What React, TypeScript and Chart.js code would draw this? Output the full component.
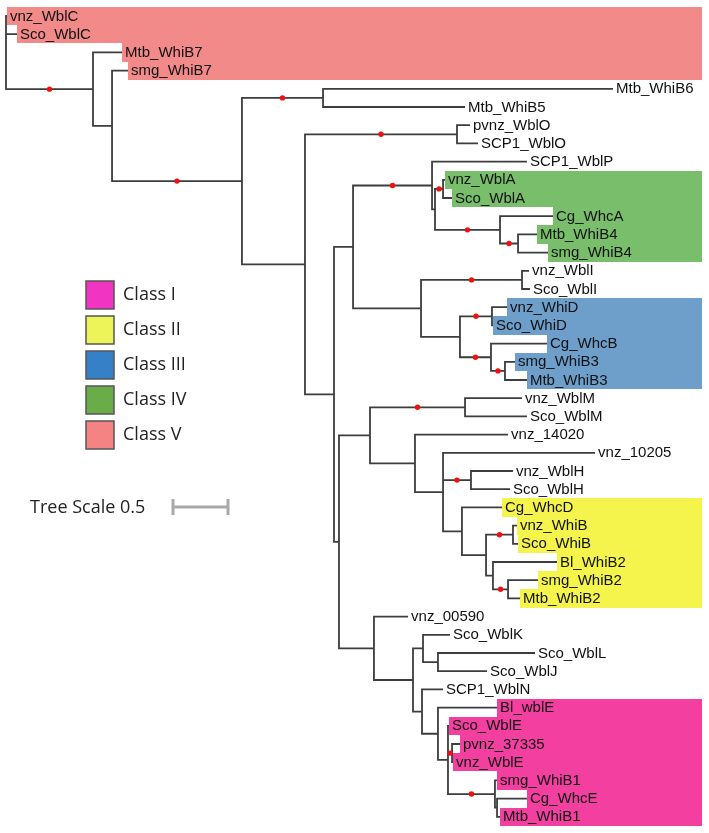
import React, { useEffect, useRef } from "react";
import { Chart, registerables } from "chart.js";
Chart.register(...registerables);

// ---------- DATA ----------
// Leaves in display order (top to bottom); depth = distance from root (tree units)
const leafNames = [
  "vnz_WblC", "Sco_WblC", "Mtb_WhiB7", "smg_WhiB7", "Mtb_WhiB6", "Mtb_WhiB5",
  "pvnz_WblO", "SCP1_WblO", "SCP1_WblP", "vnz_WblA", "Sco_WblA", "Cg_WhcA",
  "Mtb_WhiB4", "smg_WhiB4", "vnz_WblI", "Sco_WblI", "vnz_WhiD", "Sco_WhiD",
  "Cg_WhcB", "smg_WhiB3", "Mtb_WhiB3", "vnz_WblM", "Sco_WblM", "vnz_14020",
  "vnz_10205", "vnz_WblH", "Sco_WblH", "Cg_WhcD", "vnz_WhiB", "Sco_WhiB",
  "Bl_WhiB2", "smg_WhiB2", "Mtb_WhiB2", "vnz_00590", "Sco_WblK", "Sco_WblL",
  "Sco_WblJ", "SCP1_WblN", "Bl_wblE", "Sco_WblE", "pvnz_37335", "vnz_WblE",
  "smg_WhiB1", "Cg_WhcE", "Mtb_WhiB1",
];
const leafDepth = [
  0.009, 0.100, 1.055, 1.109, 5.518, 4.173,
  4.218, 4.291, 4.736, 3.991, 4.055, 4.973,
  4.827, 4.927, 4.755, 4.764, 4.555, 4.427,
  4.918, 4.627, 4.736, 4.691, 4.736, 4.564,
  5.355, 4.609, 4.582, 4.509, 4.645, 4.655,
  5.009, 4.836, 4.673, 3.655, 4.036, 4.809,
  4.373, 3.973, 4.464, 4.027, 4.127, 4.064,
  4.464, 4.736, 4.491,
];
const leafParent = [
  "root", "root", "A", "B", "P56", "P56",
  "E", "E", "I", "WblA", "WblA", "K",
  "L", "L", "WblI", "WblI", "WhiD", "WhiD",
  "X", "WhiB3", "WhiB3", "WblM", "WblM", "O",
  "P2", "WblH", "WblH", "Q", "WhiB", "WhiB",
  "B2g", "SM2", "SM2", "N", "K1", "LJ",
  "LJ", "T", "U", "V", "PV", "PV",
  "W1", "CM", "CM",
];
// Internal nodes
const nodeNames = [
  "root", "A", "B", "C", "P56", "D", "E", "F", "G", "I", "I2", "WblA", "K", "L",
  "J", "WblI", "W", "WhiD", "X", "WhiB3", "H", "M", "WblM", "O", "P2", "WblH",
  "Q", "R", "WhiB", "B2g", "SM2", "N", "S", "K1", "LJ", "T", "U", "V", "PV", "W1", "CM",
];
const nodeDepth = [
  0, 0.791, 0.964, 2.145, 2.882, 2.718, 4.100, 2.982, 3.155, 3.873, 3.900, 3.973, 4.491, 4.655,
  3.773, 4.691, 4.127, 4.418, 4.409, 4.536, 3.027, 3.309, 4.173, 3.718, 3.973, 4.227,
  4.145, 4.364, 4.609, 4.427, 4.564, 3.345, 3.700, 3.791, 3.927, 3.782, 3.927, 4.018, 4.055, 4.445, 4.464,
];
const nodeParent = [
  "", "root", "A", "B", "C", "C", "D", "D", "F", "G", "I", "I2", "I2", "K",
  "G", "J", "J", "W", "W", "X", "F", "H", "M", "M", "O", "P2",
  "P2", "Q", "R", "R", "B2g", "H", "N", "S", "K1", "S", "T", "U", "V", "V", "W1",
];
// Nodes whose incoming branch carries a support marker
const supportedBranches = [
  "A", "C", "P56", "E", "I", "WblA", "K", "L", "WblI", "WhiD", "X", "WhiB3",
  "WblM", "WblH", "WhiB", "SM2", "PV", "W1",
];

// Classes
const classLabels = ["Class I", "Class II", "Class III", "Class IV", "Class V"];
const classHighlight = ["#F33F9F", "#F4F44C", "#6E9FCB", "#79BE6A", "#F28A8A"];
const classLegendColor = ["#F234C2", "#EDF45A", "#3580C6", "#6AAC47", "#F58383"];
const classIMembers = ["Bl_wblE", "Sco_WblE", "pvnz_37335", "vnz_WblE", "smg_WhiB1", "Cg_WhcE", "Mtb_WhiB1"];
const classIIMembers = ["Cg_WhcD", "vnz_WhiB", "Sco_WhiB", "Bl_WhiB2", "smg_WhiB2", "Mtb_WhiB2"];
const classIIIMembers = ["vnz_WhiD", "Sco_WhiD", "Cg_WhcB", "smg_WhiB3", "Mtb_WhiB3"];
const classIVMembers = ["vnz_WblA", "Sco_WblA", "Cg_WhcA", "Mtb_WhiB4", "smg_WhiB4"];
const classVMembers = ["vnz_WblC", "Sco_WblC", "Mtb_WhiB7", "smg_WhiB7"];
const classMembers = [classIMembers, classIIMembers, classIIIMembers, classIVMembers, classVMembers];

const scaleBarLength = 0.5;
const scaleBarLabel = "Tree Scale 0.5";

// ---------- TREE LAYOUT ----------
function buildTree() {
  const xOf: Record<string, number> = {};
  const yOf: Record<string, number> = {};
  const parentOf: Record<string, string> = {};
  leafNames.forEach((n, i) => {
    xOf[n] = leafDepth[i];
    yOf[n] = i;
    parentOf[n] = leafParent[i];
  });
  nodeNames.forEach((n, i) => {
    xOf[n] = nodeDepth[i];
    if (nodeParent[i]) parentOf[n] = nodeParent[i];
  });
  const children: Record<string, string[]> = {};
  Object.keys(parentOf).forEach((c) => {
    const p = parentOf[c];
    (children[p] = children[p] || []).push(c);
  });
  const computeY = (n: string): number => {
    if (n in yOf) return yOf[n];
    const ys = children[n].map(computeY);
    yOf[n] = (Math.min(...ys) + Math.max(...ys)) / 2;
    return yOf[n];
  };
  computeY("root");
  const branchPts: { x: number; y: number }[] = [];
  Object.keys(parentOf).forEach((c) => {
    const p = parentOf[c];
    branchPts.push(
      { x: xOf[p], y: yOf[p] },
      { x: xOf[p], y: yOf[c] },
      { x: xOf[c], y: yOf[c] },
      { x: NaN, y: NaN }
    );
  });
  const dotPts = supportedBranches.map((n) => ({
    x: (xOf[parentOf[n]] + xOf[n]) / 2,
    y: yOf[n],
  }));
  return { branchPts, dotPts };
}

const W = 709;
const H = 833;
const ROW_PX = 18.2;
const FIRST_ROW_PX = 16;
const ROOT_PX = 6;
const UNIT_PX = 110;

export default function App() {
  const ref = useRef<HTMLCanvasElement | null>(null);
  useEffect(() => {
    document.body.style.margin = "0";
    const { branchPts, dotPts } = buildTree();
    const decor = {
      id: "treeDecor",
      beforeDatasetsDraw(chart: any) {
        const { ctx, scales, chartArea } = chart;
        const xs = scales.x;
        const ys = scales.y;
        ctx.save();
        classMembers.forEach((members, ci) => {
          ctx.fillStyle = classHighlight[ci];
          members.forEach((name) => {
            const i = leafNames.indexOf(name);
            const x0 = Math.round(xs.getPixelForValue(leafDepth[i]));
            const y0 = Math.round(ys.getPixelForValue(i - 0.5));
            const y1 = Math.round(ys.getPixelForValue(i + 0.5));
            ctx.fillRect(x0, y0, chartArea.right - 7 - x0, y1 - y0);
          });
        });
        ctx.restore();
      },
      afterDatasetsDraw(chart: any) {
        const { ctx, scales } = chart;
        const xs = scales.x;
        const ys = scales.y;
        ctx.save();
        // leaf labels
        ctx.font = '15px "Liberation Sans", Arial, sans-serif';
        ctx.fillStyle = "#111";
        ctx.textBaseline = "middle";
        ctx.textAlign = "left";
        leafNames.forEach((n, i) => {
          ctx.fillText(n, xs.getPixelForValue(leafDepth[i]) + 3, ys.getPixelForValue(i) + 0.5);
        });
        // legend
        ctx.font = '18px "Open Sans", "Noto Sans", sans-serif';
        classLabels.forEach((lab, k) => {
          const top = 281 + k * 35;
          ctx.fillStyle = classLegendColor[k];
          ctx.fillRect(86, top, 28, 28);
          ctx.strokeStyle = "#555";
          ctx.lineWidth = 1.5;
          ctx.strokeRect(86, top, 28, 28);
          ctx.fillStyle = "#222";
          ctx.fillText(lab, 123, top + 14);
        });
        // scale bar
        ctx.fillStyle = "#222";
        ctx.fillText(scaleBarLabel, 30, 508);
        const sx0 = 173;
        const len = xs.getPixelForValue(scaleBarLength) - xs.getPixelForValue(0);
        ctx.strokeStyle = "#A9A9A9";
        ctx.lineWidth = 3;
        ctx.beginPath();
        ctx.moveTo(sx0, 507);
        ctx.lineTo(sx0 + len, 507);
        ctx.moveTo(sx0, 499);
        ctx.lineTo(sx0, 515);
        ctx.moveTo(sx0 + len, 499);
        ctx.lineTo(sx0 + len, 515);
        ctx.stroke();
        ctx.restore();
      },
    };
    const chart = new Chart(ref.current as HTMLCanvasElement, {
      type: "scatter",
      data: {
        datasets: [
          {
            data: branchPts,
            order: 2,
            showLine: true,
            spanGaps: false,
            borderColor: "#3d3d3d",
            borderWidth: 1.8,
            pointRadius: 0,
            pointHoverRadius: 0,
            borderJoinStyle: "miter",
          } as any,
          {
            data: dotPts,
            order: 1,
            showLine: false,
            pointRadius: 2.7,
            pointHoverRadius: 2.7,
            backgroundColor: "#EE1111",
            borderColor: "#EE1111",
            pointBackgroundColor: "#EE1111",
            pointBorderColor: "#EE1111",
            pointBorderWidth: 0,
          } as any,
        ],
      },
      options: {
        animation: false,
        responsive: false,
        maintainAspectRatio: false,
        events: [],
        layout: { padding: 0, autoPadding: false },
        plugins: { legend: { display: false }, tooltip: { enabled: false } },
        scales: {
          x: {
            type: "linear",
            display: false,
            min: -ROOT_PX / UNIT_PX,
            max: (W - ROOT_PX) / UNIT_PX,
          },
          y: {
            type: "linear",
            display: false,
            reverse: true,
            min: -FIRST_ROW_PX / ROW_PX,
            max: (H - FIRST_ROW_PX) / ROW_PX,
          },
        },
      },
      plugins: [decor],
    });
    return () => chart.destroy();
  }, []);
  return <canvas ref={ref} width={W} height={H} style={{ display: "block" }} />;
}
